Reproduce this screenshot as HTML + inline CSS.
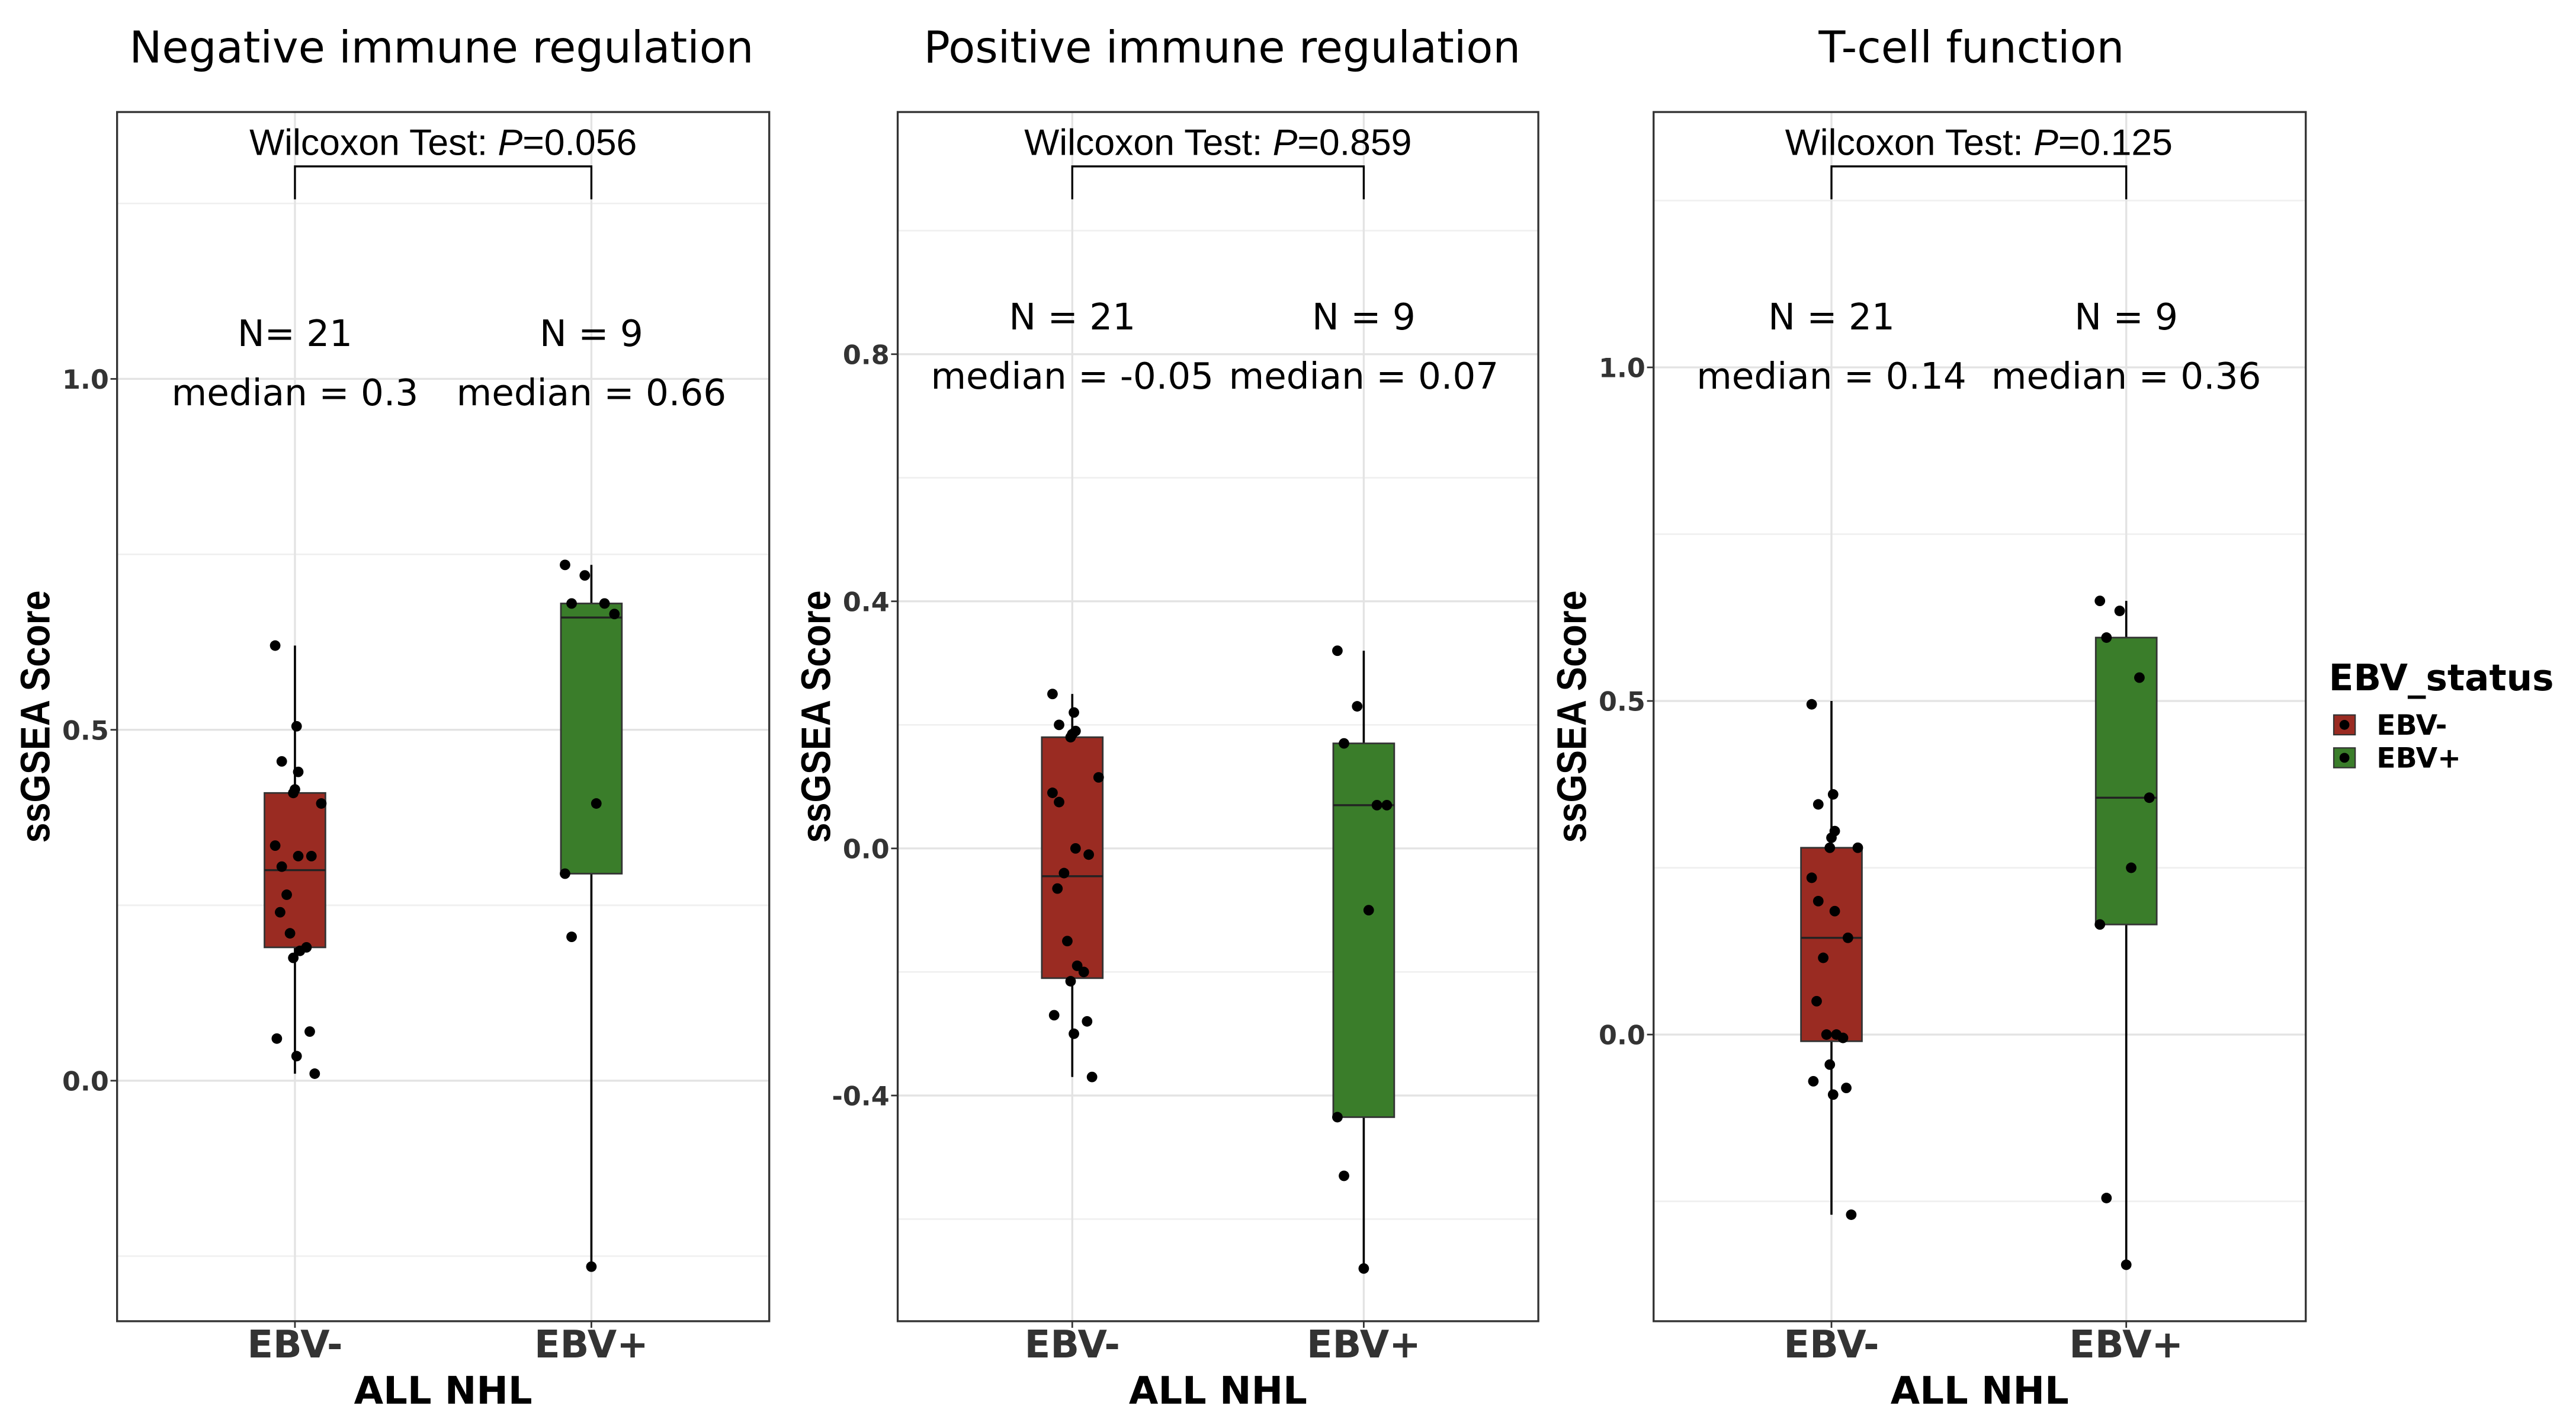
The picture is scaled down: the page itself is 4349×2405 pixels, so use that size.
<!DOCTYPE html>
<html><head><meta charset="utf-8"><style>
html,body{margin:0;padding:0;background:#fff;}
svg{display:block;font-family:"Liberation Sans",sans-serif;}
.dv{font-family:"DejaVu Sans","Liberation Sans",sans-serif;}
</style></head><body>
<svg id="fig" width="4349" height="2405" viewBox="0 0 1564 865" xmlns="http://www.w3.org/2000/svg"></svg>
<script>
// ---- data ----
const groups = ["EBV-","EBV+"];
const p1Neg = [0.62,0.505,0.455,0.44,0.415,0.41,0.395,0.335,0.305,0.32,0.32,0.265,0.24,0.21,0.185,0.19,0.175,0.06,0.07,0.035,0.01];
const p1Pos = [0.735,0.72,0.68,0.68,0.665,0.395,0.295,0.205,-0.265];
const p1BoxNeg = [0.01,0.19,0.3,0.41,0.62];
const p1BoxPos = [-0.265,0.295,0.66,0.68,0.735];
const p2Neg = [0.25,0.22,0.2,0.19,0.185,0.18,0.115,0.09,0.075,0.0,-0.01,-0.04,-0.065,-0.15,-0.19,-0.2,-0.215,-0.27,-0.28,-0.3,-0.37];
const p2Pos = [0.32,0.23,0.17,0.07,0.07,-0.1,-0.435,-0.53,-0.68];
const p2BoxNeg = [-0.37,-0.21,-0.045,0.18,0.25];
const p2BoxPos = [-0.68,-0.435,0.07,0.17,0.32];
const p3Neg = [0.495,0.36,0.345,0.305,0.295,0.28,0.28,0.235,0.2,0.185,0.145,0.115,0.05,0.0,0.0,-0.005,-0.045,-0.07,-0.08,-0.09,-0.27];
const p3Pos = [0.65,0.635,0.595,0.535,0.355,0.25,0.165,-0.245,-0.345];
const p3BoxNeg = [-0.27,-0.01,0.145,0.28,0.5];
const p3BoxPos = [-0.345,0.165,0.355,0.595,0.65];
const p1Ticks = ["0.0","0.5","1.0"];
const p2Ticks = ["-0.4","0.0","0.4","0.8"];
const p3Ticks = ["0.0","0.5","1.0"];
// ---- layout ----
const jitNeg=[-12,1,-8,2,0,-1,16,-12,-8,2,10,-5,-9,-3,3,7,-1,-11,9,1,12];
const jitPos=[-16,-4,-12,8,14,3,-16,-12,0];
const panels=[
 {title:"Negative immune regulation",tx:268,x0:71,x1:467,c:[179,359],v0:0,y0:656,ppu:426,ticks:p1Ticks,minor:[1.25,0.75,0.25,-0.25],
  neg:p1Neg,pos:p1Pos,bn:p1BoxNeg,bp:p1BoxPos,p:"0.056",n:["N= 21","N = 9"],m:["median = 0.3","median = 0.66"],ny:202},
 {title:"Positive immune regulation",tx:742,x0:545,x1:934,c:[651,828],v0:0,y0:515,ppu:375,ticks:p2Ticks,minor:[1.0,0.6,0.2,-0.2,-0.6],
  neg:p2Neg,pos:p2Pos,bn:p2BoxNeg,bp:p2BoxPos,p:"0.859",n:["N = 21","N = 9"],m:["median = -0.05","median = 0.07"],ny:192},
 {title:"T-cell function",tx:1197,x0:1004,x1:1400,c:[1112,1291],v0:0,y0:628,ppu:405,ticks:p3Ticks,minor:[1.25,0.75,0.25,-0.25],
  neg:p3Neg,pos:p3Pos,bn:p3BoxNeg,bp:p3BoxPos,p:"0.125",n:["N = 21","N = 9"],m:["median = 0.14","median = 0.36"],ny:192}
];
const NS="http://www.w3.org/2000/svg";
const svg=document.getElementById('fig');
function mk(tag,attrs,parent,text){const e=document.createElementNS(NS,tag);for(const k in attrs)e.setAttribute(k,attrs[k]);if(text!==undefined)e.textContent=text;(parent||svg).appendChild(e);return e;}
const colors=["#9a2b22","#3a7d2a"];
panels.forEach((P,pi)=>{
 const g=mk('g',{});
 
 
 const Y=v=>P.y0-(v-P.v0)*P.ppu;
 const top=68,bot=802;
 const t=mk('text',{x:P.tx,y:38,'font-size':26.5,'text-anchor':'middle',fill:'#000',class:'dv'},g,P.title);
 
 
 P.minor.forEach(v=>{const l=mk('line',{x1:P.x0,x2:P.x1,y1:Y(v),y2:Y(v),stroke:'#f0f0f0','stroke-width':1},g);
  });
 P.ticks.forEach(s=>{const v=parseFloat(s);const l=mk('line',{x1:P.x0,x2:P.x1,y1:Y(v),y2:Y(v),stroke:'#e3e3e3','stroke-width':1.2},g);
  
  const tk=mk('line',{x1:P.x0-4,x2:P.x0,y1:Y(v),y2:Y(v),stroke:'#333','stroke-width':1},g);
  
  const tl=mk('text',{x:P.x0-5,y:Y(v)+6,'font-size':16,'font-weight':'bold','text-anchor':'end',fill:'#333',class:'dv'},g,s);
  });
 P.c.forEach(cx=>{const l=mk('line',{x1:cx,x2:cx,y1:top,y2:bot,stroke:'#e3e3e3','stroke-width':1.2},g);
  });
 const fr=mk('rect',{x:P.x0,y:top,width:P.x1-P.x0,height:bot-top,fill:'none',stroke:'#333','stroke-width':1.2},g);
 
 [P.bn,P.bp].forEach((b,gi)=>{const cx=P.c[gi];
  const w=mk('line',{x1:cx,x2:cx,y1:Y(b[0]),y2:Y(b[4]),stroke:'#000','stroke-width':1.3},g);
  
  const r=mk('rect',{x:cx-18.5,y:Y(b[3]),width:37,height:Y(b[1])-Y(b[3]),fill:colors[gi],stroke:'#333','stroke-width':1},g);
  
  const md=mk('line',{x1:cx-18.5,x2:cx+18.5,y1:Y(b[2]),y2:Y(b[2]),stroke:'#222','stroke-width':1.2},g);
  });
 [P.neg,P.pos].forEach((arr,gi)=>{const jit=gi?jitPos:jitNeg;arr.forEach((v,i)=>{
  const d=mk('circle',{cx:P.c[gi]+jit[i%jit.length],cy:Y(v),r:3.2,fill:'#000'},g);
  });});
 const a=P.c[0],b2=P.c[1];
 const br=mk('path',{d:`M${a},121 V101 H${b2} V121`,fill:'none',stroke:'#000','stroke-width':1.2},g);
 
 const wt=mk('text',{x:(a+b2)/2,y:94,'font-size':22.5,'text-anchor':'middle',fill:'#000'},g);
 
 wt.appendChild(document.createTextNode('Wilcoxon Test: '));
 mk('tspan',{'font-style':'italic'},wt,'P');
 wt.appendChild(document.createTextNode('='+P.p));
 P.c.forEach((cx,gi)=>{
  const n=mk('text',{x:cx,y:P.ny+8,'font-size':22,'text-anchor':'middle',fill:'#000',class:'dv'},g,P.n[gi]);
  
  const m=mk('text',{x:cx,y:P.ny+44,'font-size':22,'text-anchor':'middle',fill:'#000',class:'dv'},g,P.m[gi]);
  
  const tk=mk('line',{x1:cx,x2:cx,y1:bot,y2:bot+4,stroke:'#333'},g);
  
  const xl=mk('text',{x:cx,y:798+26,'font-size':23,'font-weight':'bold','text-anchor':'middle',fill:'#333',class:'dv'},g,groups[gi]);
  });
 const xt=mk('text',{x:(P.x0+P.x1)/2,y:852,'font-size':23,'font-weight':'bold','text-anchor':'middle',fill:'#000',class:'dv'},g,'ALL NHL');
 
 const yx=P.x0-41, yy=435;
 const yt=mk('text',{x:0,y:0,'font-size':25,'font-weight':'bold','text-anchor':'middle',fill:'#000',transform:`translate(${yx} ${yy}) rotate(-90) scale(0.88 1)`},g,'ssGSEA Score');
 
});
const lg=mk('g',{});


const lt=mk('text',{x:1414,y:419,'font-size':22,'font-weight':'bold',fill:'#000',class:'dv'},lg,'EBV_status');

groups.forEach((gname,i)=>{const y=440+i*20;
 const k=mk('rect',{x:1417,y:y-6,width:13,height:12,fill:colors[i],stroke:'#333','stroke-width':0.8},lg);
 
 const d=mk('circle',{cx:1423.5,cy:y,r:3,fill:'#000'},lg);
 
 const l=mk('text',{x:1443,y:y+6,'font-size':17,'font-weight':'bold',fill:'#000',class:'dv'},lg,gname);
 });
</script>
</body></html>
